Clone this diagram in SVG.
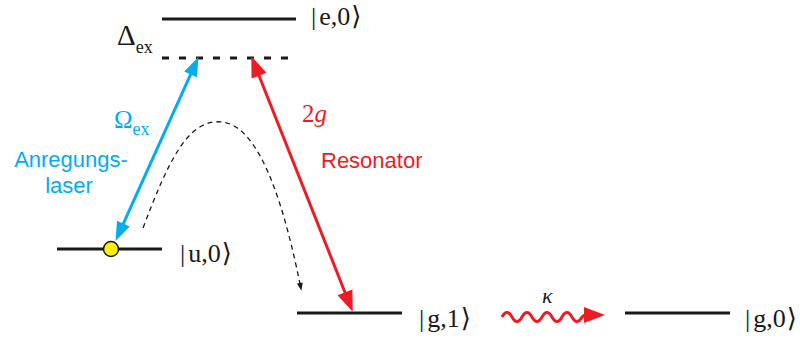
<svg xmlns="http://www.w3.org/2000/svg" width="800" height="338" viewBox="0 0 800 338">
<style>
.lvl{stroke:#1a1a1a;stroke-width:3;fill:none}
.ket{font-family:"Liberation Serif","DejaVu Serif",serif;font-size:26px;fill:#1a1a1a}
.sans{font-family:"Liberation Sans","DejaVu Sans",sans-serif;font-size:22px}
.serif{font-family:"Liberation Serif","DejaVu Serif",serif}
.blue{fill:#00AEEF}
.red{fill:#ED1C24}
</style>
<defs>
<marker id="hb" markerUnits="userSpaceOnUse" markerWidth="24" markerHeight="20" viewBox="-2 -10 24 20" refX="8" refY="0" orient="auto-start-reverse">
<path d="M0,-7 L19,0 L0,7 Z" fill="#00AEEF"/>
</marker>
<marker id="hr" markerUnits="userSpaceOnUse" markerWidth="26" markerHeight="22" viewBox="-2 -11 26 22" refX="9" refY="0" orient="auto-start-reverse">
<path d="M0,-8 L21,0 L0,8 Z" fill="#ED1C24"/>
</marker>
<marker id="hr2" markerUnits="userSpaceOnUse" markerWidth="26" markerHeight="22" viewBox="-2 -11 26 22" refX="3" refY="0" orient="auto">
<path d="M0,-8 L21,0 L0,8 Z" fill="#ED1C24"/>
</marker>
<marker id="hk" markerUnits="userSpaceOnUse" markerWidth="10" markerHeight="10" viewBox="-1 -5 10 10" refX="1" refY="0" orient="auto">
<path d="M0,-3 L8,0 L0,3 Z" fill="#1a1a1a"/>
</marker>
</defs>

<g id="level-e0">
<line class="lvl" x1="162" y1="19" x2="296" y2="19"/>
<text class="ket" x="311" y="25">|<tspan dx="3">e,0</tspan><tspan dx="1">⟩</tspan></text>
</g>

<g id="level-virtual">
<line class="lvl" x1="162" y1="58" x2="290" y2="58" stroke-dasharray="7 10"/>
<text class="serif" x="117" y="45" font-size="29" fill="#1a1a1a">Δ<tspan font-size="18" dy="8">ex</tspan></text>
</g>

<g id="level-u0">
<line class="lvl" x1="57" y1="249" x2="162" y2="249"/>
<circle cx="111" cy="249" r="7.5" fill="#FFF200" stroke="#1a1a1a" stroke-width="1.5"/>
<text class="ket" x="180" y="262">|<tspan dx="3">u,0</tspan><tspan dx="1">⟩</tspan></text>
</g>

<g id="level-g1">
<line class="lvl" x1="297" y1="313" x2="402" y2="313"/>
<text class="ket" x="419" y="327">|<tspan dx="3">g,1</tspan><tspan dx="1">⟩</tspan></text>
</g>

<g id="level-g0">
<line class="lvl" x1="625" y1="313" x2="730" y2="313"/>
<text class="ket" x="745" y="327">|<tspan dx="3">g,0</tspan><tspan dx="1">⟩</tspan></text>
</g>

<g id="labels">
<text class="serif blue" x="114" y="128" font-size="25">Ω<tspan font-size="18" dy="7">ex</tspan></text>
<text class="sans blue" x="71" y="167" text-anchor="middle">Anregungs-</text>
<text class="sans blue" x="69" y="193" text-anchor="middle">laser</text>
<text class="serif red" x="302" y="122" font-size="25"><tspan>2</tspan><tspan font-style="italic">g</tspan></text>
<text class="sans red" x="321" y="168">Resonator</text>
<text class="serif" x="542" y="303" font-size="22" font-style="italic" fill="#1a1a1a">κ</text>
</g>

<g id="connectors">
<line x1="193.9" y1="67.1" x2="120.1" y2="230.9" stroke="#00AEEF" stroke-width="3" marker-start="url(#hb)" marker-end="url(#hb)"/>
<line x1="255.7" y1="67.3" x2="348.3" y2="300.7" stroke="#ED1C24" stroke-width="3" marker-start="url(#hr)" marker-end="url(#hr)"/>
<path d="M143,228 C168,162 188,118 222,122 C262,126 286,215 300,284" fill="none" stroke="#1a1a1a" stroke-width="1.3" stroke-dasharray="5 4" marker-end="url(#hk)"/>
<path d="M502,317 q5,-9 10,0 q5,9 10,0 q5,-9 10,0 q5,9 10,0 q5,-9 10,0 q5,9 10,0 q5,-9 10,0 q5,9 10,0 q2,-2 4,-2 h1" fill="none" stroke="#ED1C24" stroke-width="3" marker-end="url(#hr2)"/>
</g>
</svg>
